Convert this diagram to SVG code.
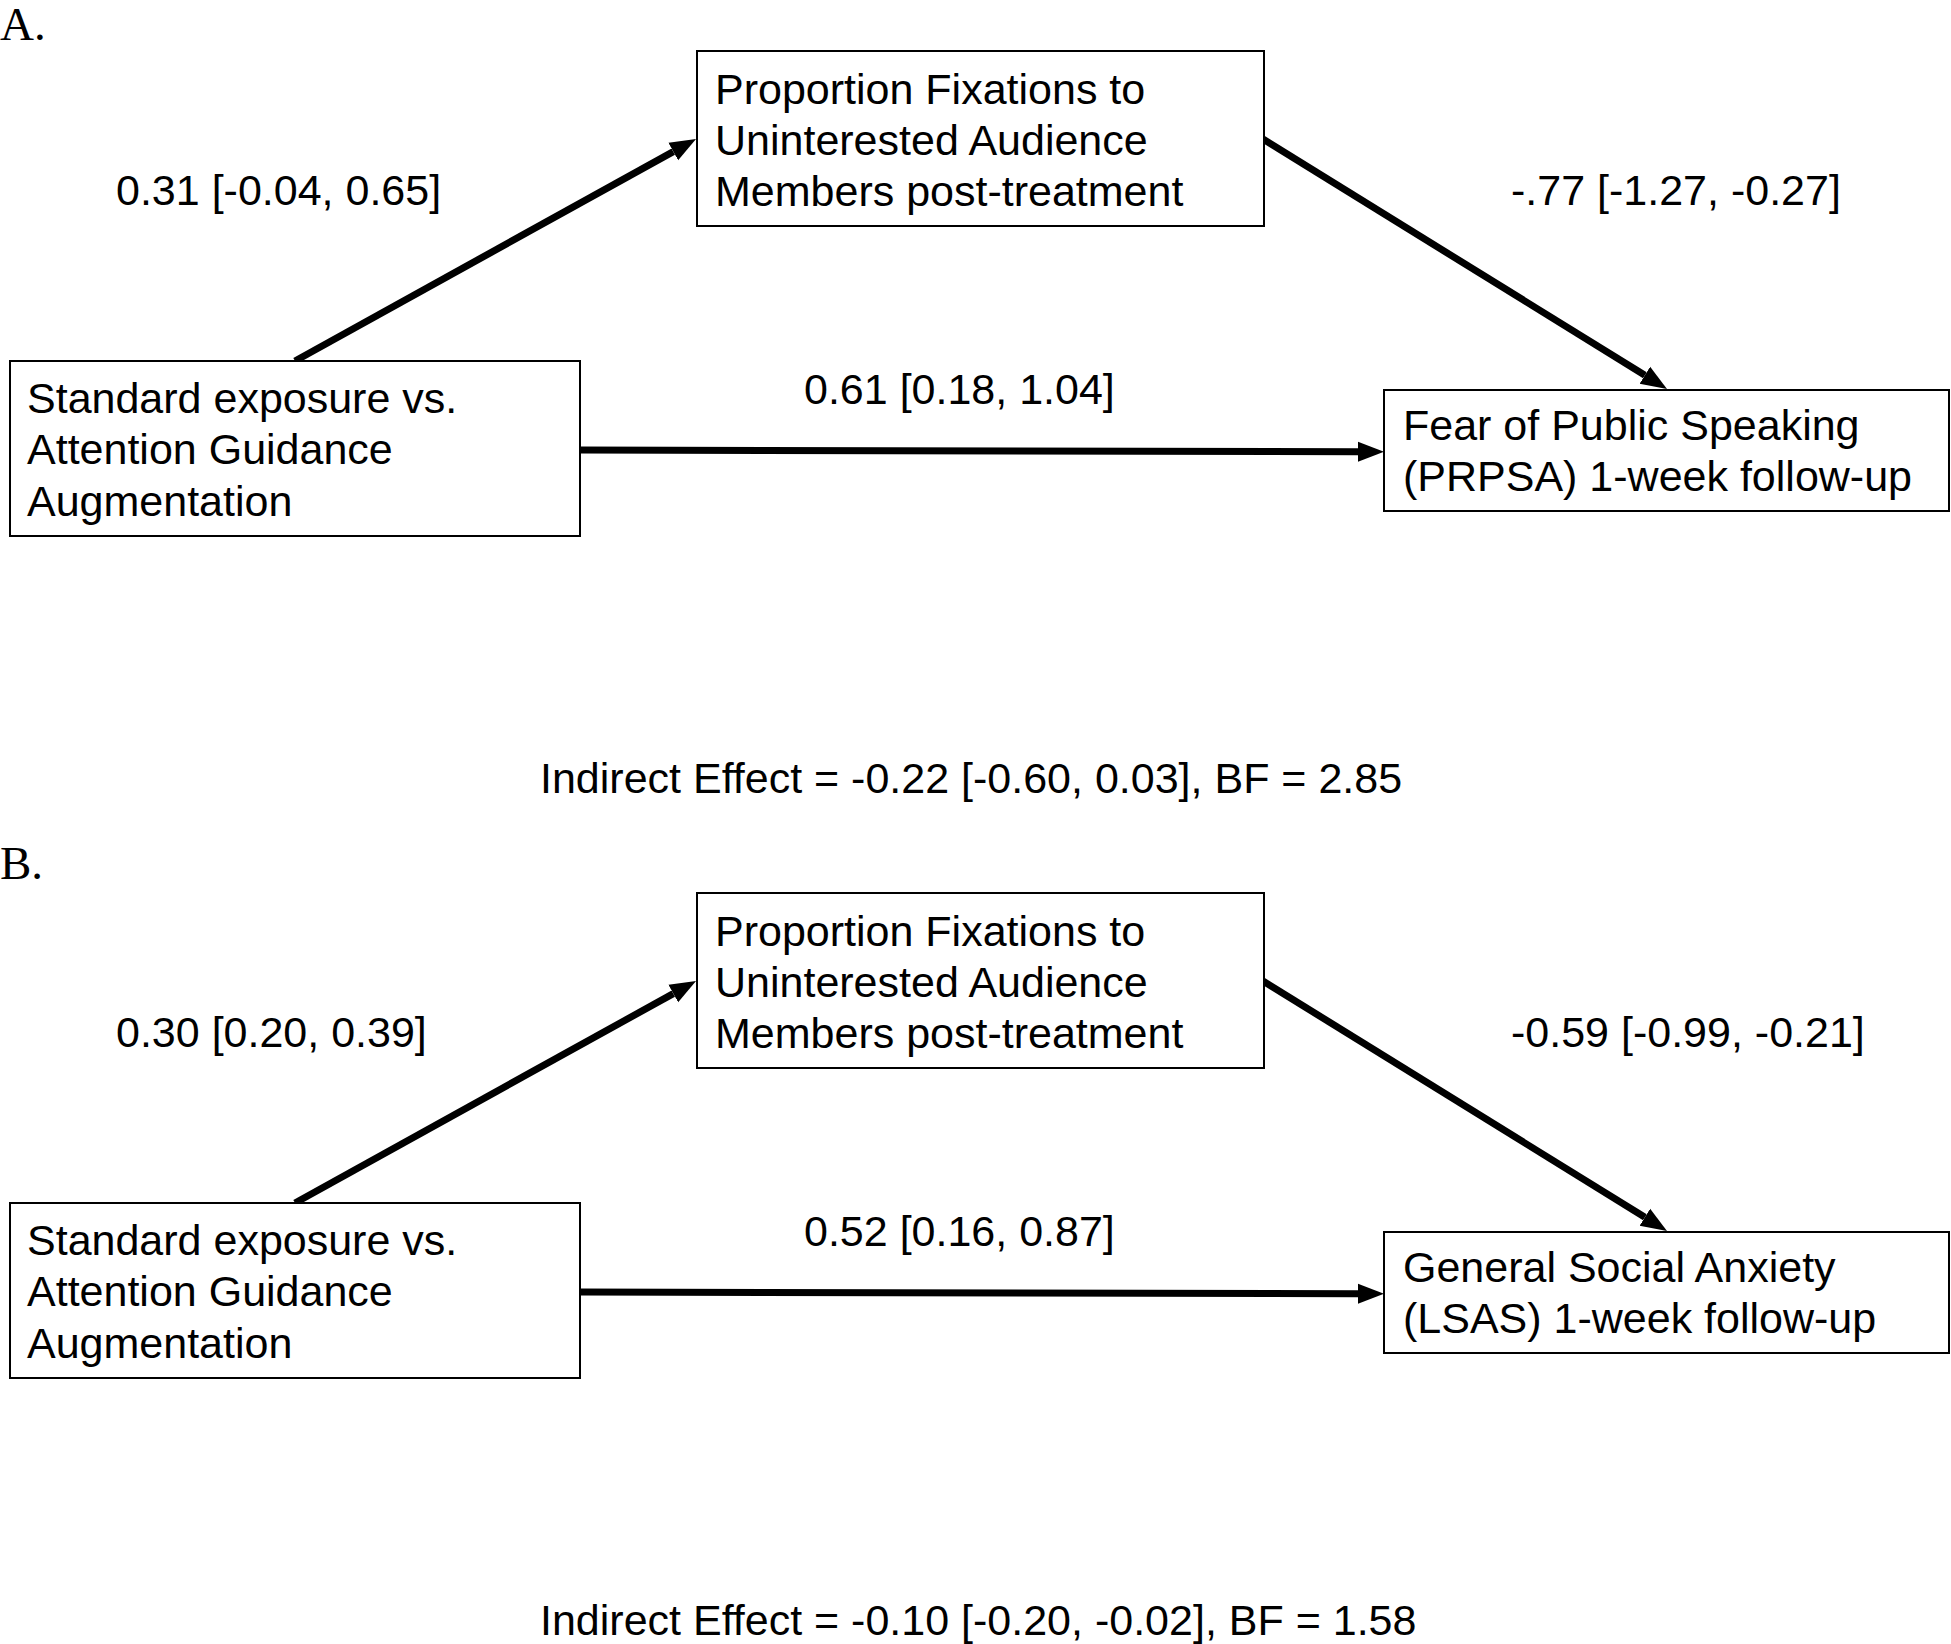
<svg xmlns="http://www.w3.org/2000/svg" width="1951" height="1644" viewBox="0 0 1951 1644">
<style>
.bg{fill:#fff}
.box{fill:#fff;stroke:#000;stroke-width:2}
.t{font-family:"Liberation Sans",Arial,sans-serif;font-size:43px;fill:#000}
.panel{font-family:"Liberation Serif","Times New Roman",serif;font-size:47px;fill:#000}
.conn{stroke:#000;stroke-width:7;fill:none;marker-end:url(#ah)}
</style>
<defs>
<marker id="ah" markerUnits="userSpaceOnUse" markerWidth="28" markerHeight="22" refX="0" refY="10" orient="auto" viewBox="0 0 28 20">
<path d="M0,0 L26,10 L0,20 z" fill="#000"/>
</marker>
</defs>
<rect class="bg" x="0" y="0" width="1951" height="1644"/>

<text class="panel" x="0" y="40">A.</text>
<text class="panel" x="0" y="879">B.</text>

<g id="connectors">
<line class="conn" x1="295" y1="361" x2="673.3" y2="151.6"/>
<line class="conn" x1="1263" y1="139" x2="1644.9" y2="375.3"/>
<line class="conn" x1="580" y1="450" x2="1358" y2="451.8"/>
<line class="conn" x1="295" y1="1203" x2="673.3" y2="993.6"/>
<line class="conn" x1="1263" y1="981" x2="1644.9" y2="1217.3"/>
<line class="conn" x1="580" y1="1292" x2="1358" y2="1293.8"/>
</g>

<g id="labels">
<text class="t" x="116" y="205">0.31 [-0.04, 0.65]</text>
<text class="t" x="1511" y="205">-.77 [-1.27, -0.27]</text>
<text class="t" x="804" y="404">0.61 [0.18, 1.04]</text>
<text class="t" x="540" y="793">Indirect Effect = -0.22 [-0.60, 0.03], BF = 2.85</text>
<text class="t" x="116" y="1047">0.30 [0.20, 0.39]</text>
<text class="t" x="1511" y="1047">-0.59 [-0.99, -0.21]</text>
<text class="t" x="804" y="1246">0.52 [0.16, 0.87]</text>
<text class="t" x="540" y="1635">Indirect Effect = -0.10 [-0.20, -0.02], BF = 1.58</text>
</g>

<g id="A-mediator">
<rect class="box" x="697" y="51" width="567" height="175"/>
<text class="t" x="715" y="103.5">Proportion Fixations to</text>
<text class="t" x="715" y="154.5">Uninterested Audience</text>
<text class="t" x="715" y="205.5">Members post-treatment</text>
</g>
<g id="A-predictor">
<rect class="box" x="10" y="361" width="570" height="175"/>
<text class="t" x="27" y="413">Standard exposure vs.</text>
<text class="t" x="27" y="464">Attention Guidance</text>
<text class="t" x="27" y="516">Augmentation</text>
</g>
<g id="A-outcome">
<rect class="box" x="1384" y="390" width="565" height="121"/>
<text class="t" x="1403" y="440">Fear of Public Speaking</text>
<text class="t" x="1403" y="491">(PRPSA) 1-week follow-up</text>
</g>

<g id="B-mediator">
<rect class="box" x="697" y="893" width="567" height="175"/>
<text class="t" x="715" y="945.5">Proportion Fixations to</text>
<text class="t" x="715" y="996.5">Uninterested Audience</text>
<text class="t" x="715" y="1047.5">Members post-treatment</text>
</g>
<g id="B-predictor">
<rect class="box" x="10" y="1203" width="570" height="175"/>
<text class="t" x="27" y="1255">Standard exposure vs.</text>
<text class="t" x="27" y="1306">Attention Guidance</text>
<text class="t" x="27" y="1358">Augmentation</text>
</g>
<g id="B-outcome">
<rect class="box" x="1384" y="1232" width="565" height="121"/>
<text class="t" x="1403" y="1282">General Social Anxiety</text>
<text class="t" x="1403" y="1333">(LSAS) 1-week follow-up</text>
</g>
</svg>
